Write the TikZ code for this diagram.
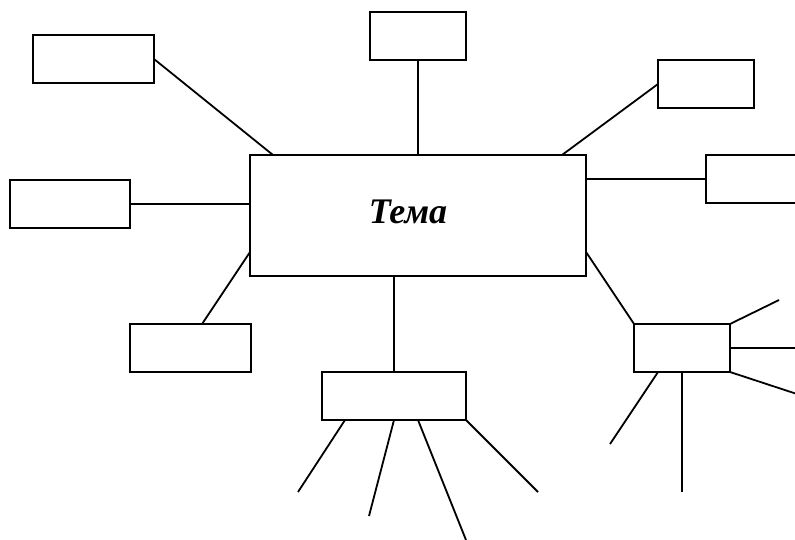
\documentclass[tikz,border=0pt]{standalone}
\usepackage{fontspec}
\setmainfont{Liberation Serif}
\usetikzlibrary{calc}
\begin{document}
\begin{tikzpicture}[x=1pt,y=-1pt,line width=1.8pt,
	box/.style={draw,rectangle,inner sep=0pt,outer sep=0pt,
		minimum width=#1,minimum height=48pt},
	box/.default=96pt]
\useasboundingbox (0,0) rectangle (795,539);
\clip (0,0) rectangle (795,539);
\node (tema) [box=336pt,minimum height=121pt] at (418,215.5) {};
\node (title) at ($(tema.center)+(-10,-4)$)
	{\fontsize{36}{42}\selectfont\bfseries\itshape Тема};
\node (topleft) [box=121pt] at (93.5,59) {};
\node (left) [box=120pt] at (70,204) {};
\node (top) [box] at (418,36) {};
\node (topright) [box] at (706,84) {};
\node (right) [box] at (754,179) {};
\node (botleft) [box=121pt] at (190.5,348) {};
\node (bot) [box=144pt] at (394,396) {};
\node (botright) [box] at (682,348) {};
% links to the central box
\draw (topleft.east) -- ($(tema.north west)+(23,0)$);
\draw (top.south) -- (tema.north);
\draw (topright.west) -- ($(tema.north east)+(-24,0)$);
\draw (right.west) -- (right.west -| tema.east);
\draw (left.east) -- (left.east -| tema.west);
\draw ($(tema.south west)+(0,-24)$) -- ($(botleft.north west)+(72,0)$);
\draw (bot.north) -- (bot.north |- tema.south);
\draw ($(tema.south east)+(0,-24)$) -- (botright.north west);
% free ends
\coordinate (b1) at (298,492);
\coordinate (b2) at (369,516);
\coordinate (b3) at (466,540);
\coordinate (b4) at (538,492);
\coordinate (r1) at (779,300);
\coordinate (r2) at (800,348);
\coordinate (r3) at (800,395);
\coordinate (r4) at (610,444);
\coordinate (r5) at (682,492);
\draw ($(bot.south west)+(23,0)$) -- (b1);
\draw ($(bot.south west)+(72,0)$) -- (b2);
\draw ($(bot.south west)+(96,0)$) -- (b3);
\draw (bot.south east) -- (b4);
\draw (botright.north east) -- (r1);
\draw (botright.east) -- (r2);
\draw (botright.south east) -- (r3);
\draw ($(botright.south west)+(24,0)$) -- (r4);
\draw (botright.south) -- (r5);
\end{tikzpicture}
\end{document}
